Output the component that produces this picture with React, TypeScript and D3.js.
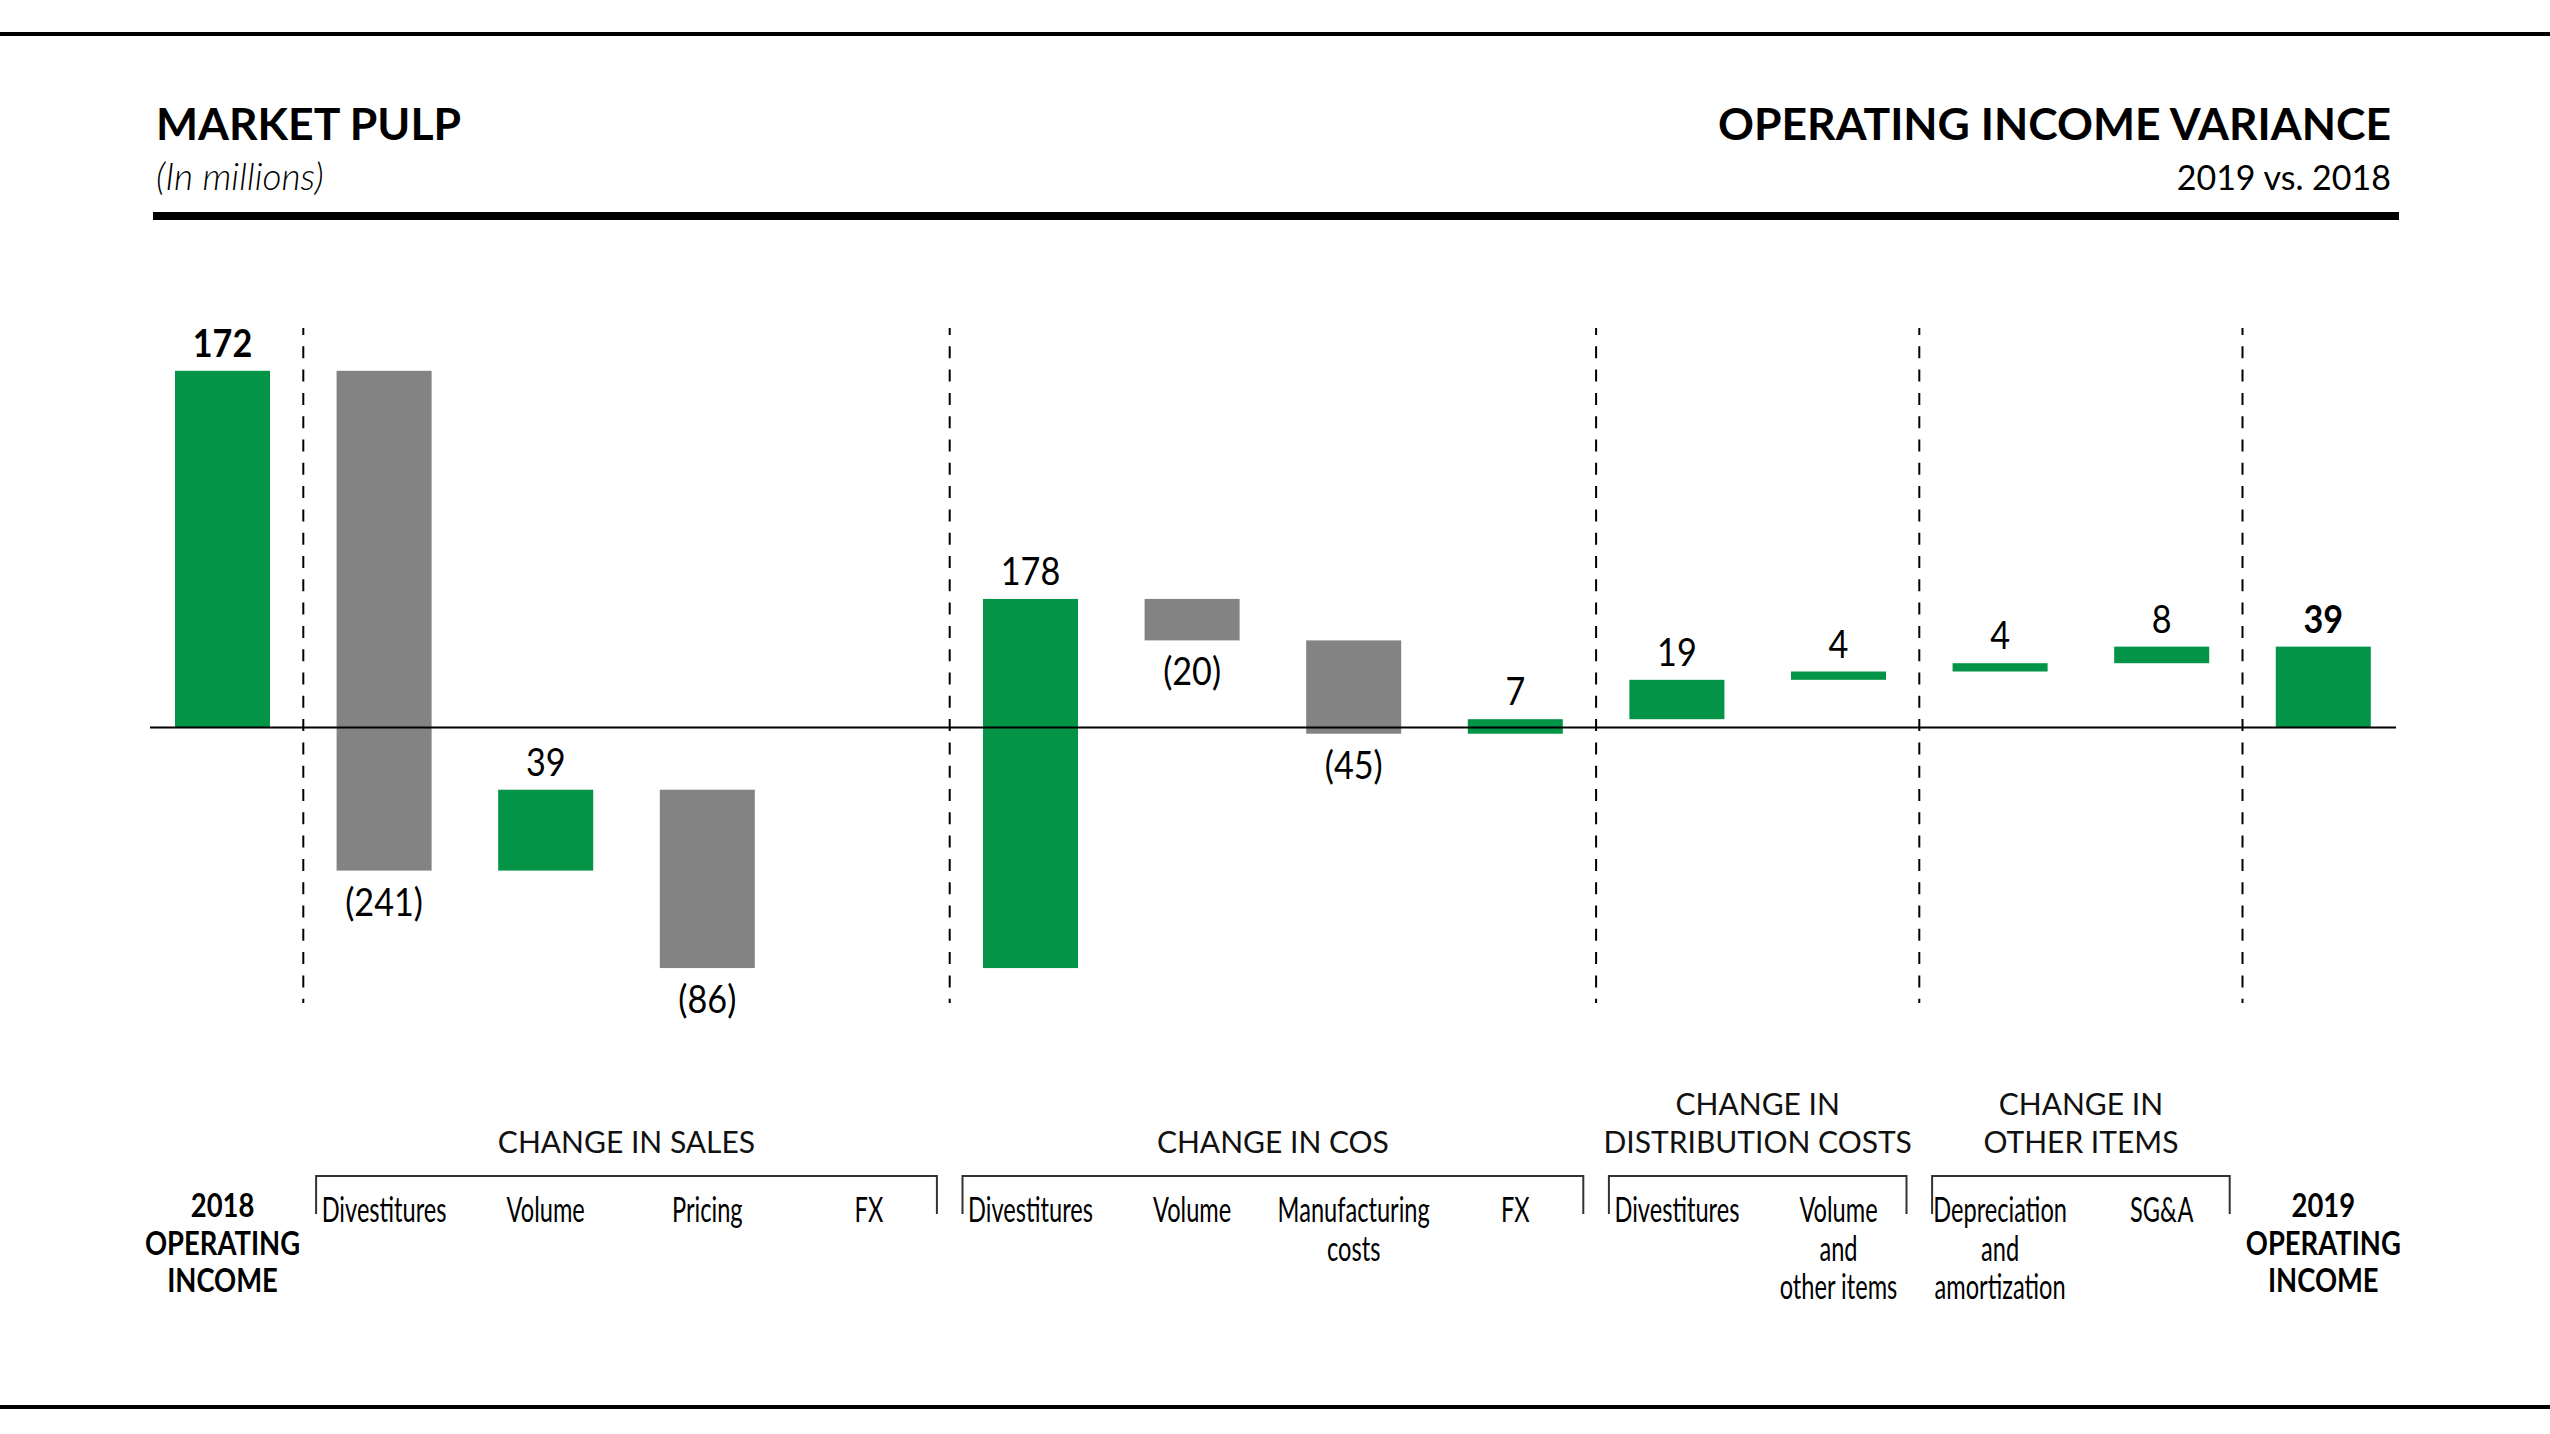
import React from "react";
import * as d3 from "d3";

// ---------- data ----------
const categoryLines: string[][] = [
  ["2018", "OPERATING", "INCOME"],
  ["Divestitures"],
  ["Volume"],
  ["Pricing"],
  ["FX"],
  ["Divestitures"],
  ["Volume"],
  ["Manufacturing", "costs"],
  ["FX"],
  ["Divestitures"],
  ["Volume", "and", "other items"],
  ["Depreciation", "and", "amortization"],
  ["SG&A"],
  ["2019", "OPERATING", "INCOME"],
];
const values = [172, -241, 39, -86, 0, 178, -20, -45, 7, 19, 4, 4, 8, 39];
const isTotal = [true, false, false, false, false, false, false, false, false, false, false, false, false, true];

const groupNames: string[][] = [
  ["CHANGE IN SALES"],
  ["CHANGE IN COS"],
  ["CHANGE IN", "DISTRIBUTION COSTS"],
  ["CHANGE IN", "OTHER ITEMS"],
];
const groupStart = [1, 5, 9, 11];
const groupEnd = [4, 8, 10, 12];
const separatorsAfter = [0, 4, 8, 10, 12];

const titleLeft = "MARKET PULP";
const subtitleLeft = "(In millions)";
const titleRight = "OPERATING INCOME VARIANCE";
const subtitleRight = "2019 vs. 2018";

// ---------- styles ----------
const W = 2550;
const H = 1434;
const GREEN = "#039447";
const GRAY = "#838383";
const FONT = "Lato, 'Open Sans', 'DejaVu Sans', sans-serif";

function fmt(v: number) {
  return v < 0 ? `(${Math.abs(v)})` : `${v}`;
}

export default function App() {
  const n = values.length;
  const step = 161.6;
  const c0 = 222.5;
  const x = d3
    .scaleBand<number>()
    .domain(d3.range(n))
    .range([c0 - step / 2, c0 - step / 2 + step * n])
    .paddingInner(0.412)
    .paddingOuter(0.206);
  const bw = x.bandwidth();
  const cx = (i: number) => (x(i) as number) + bw / 2;

  const y = d3.scaleLinear().domain([0, 172]).range([727.5, 727.5 - 356.7]);

  // waterfall
  let cum = 0;
  const bars = values.map((v, i) => {
    let start: number, end: number;
    if (isTotal[i]) {
      start = 0;
      end = v;
      cum = v;
    } else {
      start = cum;
      end = cum + v;
      cum = end;
    }
    return { i, v, start, end, total: isTotal[i] };
  });

  const valueSX = 0.9;
  const catSX = 0.675;
  const totSX = 0.83;
  const catSize = 35;
  const catLead = 38.5;
  const totLead = 37.5;

  return (
    <svg
      width={W}
      height={H}
      viewBox={`0 0 ${W} ${H}`}
      style={{ position: "absolute", left: 0, top: 0, background: "#fff" }}
      fontFamily={FONT}
    >
      <rect x={0} y={0} width={W} height={H} fill="#fff" />
      {/* rules */}
      <rect x={0} y={32} width={W} height={4} fill="#000" />
      <rect x={153} y={212} width={2399 - 153} height={8} fill="#000" />
      <rect x={0} y={1405} width={W} height={4} fill="#000" />

      {/* headers */}
      <text x={156} y={140} fontSize={44.5} fontWeight={700} fill="#000">
        {titleLeft}
      </text>
      <text x={156} y={190} fontSize={37} fontStyle="italic" fontWeight={300} fill="#000">
        {subtitleLeft}
      </text>
      <text x={2391} y={140} fontSize={44.5} fontWeight={700} fill="#000" textAnchor="end">
        {titleRight}
      </text>
      <text x={2391} y={190} fontSize={34} fontWeight={400} fill="#000" textAnchor="end">
        {subtitleRight}
      </text>

      {/* bars */}
      {bars.map((b) =>
        b.v === 0 ? null : (
          <rect
            key={"bar" + b.i}
            x={x(b.i)}
            y={y(Math.max(b.start, b.end))}
            width={bw}
            height={Math.abs(y(b.start) - y(b.end))}
            fill={b.total || b.v > 0 ? GREEN : GRAY}
          />
        )
      )}

      {/* zero axis */}
      <line x1={150} x2={2396} y1={y(0)} y2={y(0)} stroke="#000" strokeWidth={2} />

      {/* separators */}
      {separatorsAfter.map((i) => {
        const sx = cx(i) + step / 2;
        return (
          <line
            key={"sep" + i}
            x1={sx}
            x2={sx}
            y1={328}
            y2={1003}
            stroke="#000"
            strokeWidth={2}
            strokeDasharray="12 11.3"
            strokeDashoffset={5}
          />
        );
      })}

      {/* value labels */}
      {bars.map((b) => {
        if (b.v === 0) return null;
        const top = y(Math.max(b.start, b.end));
        const bottom = y(Math.min(b.start, b.end));
        const ly = b.v > 0 ? top - 14 : bottom + 45;
        return (
          <text
            key={"val" + b.i}
            transform={`translate(${cx(b.i)},${ly}) scale(${valueSX},1)`}
            textAnchor="middle"
            fontSize={38}
            fontWeight={b.total ? 700 : 400}
            fill="#000"
          >
            {fmt(b.v)}
          </text>
        );
      })}

      {/* group titles and brackets */}
      {groupNames.map((lines, g) => {
        const left = cx(groupStart[g]) - 68;
        const right = cx(groupEnd[g]) + 68;
        const mid = (cx(groupStart[g]) + cx(groupEnd[g])) / 2;
        const lastBase = 1153;
        return (
          <g key={"grp" + g}>
            {lines.map((t, k) => (
              <text
                key={k}
                x={mid}
                y={lastBase - (lines.length - 1 - k) * 38}
                fontSize={30}
                textAnchor="middle"
                fill="#111"
              >
                {t}
              </text>
            ))}
            <path
              d={`M${left},1214 V1176 H${right} V1214`}
              fill="none"
              stroke="#333"
              strokeWidth={2}
            />
          </g>
        );
      })}

      {/* category labels */}
      {categoryLines.map((lines, i) =>
        lines.map((t, k) => {
          const total = isTotal[i];
          const base = total ? 1217 + k * totLead : 1222 + k * catLead;
          return (
            <text
              key={"cat" + i + "-" + k}
              transform={`translate(${cx(i)},${base}) scale(${total ? totSX : catSX},1)`}
              textAnchor="middle"
              fontSize={total ? 33 : catSize}
              fontWeight={total ? 700 : 400}
              fill="#000"
            >
              {t}
            </text>
          );
        })
      )}
    </svg>
  );
}
